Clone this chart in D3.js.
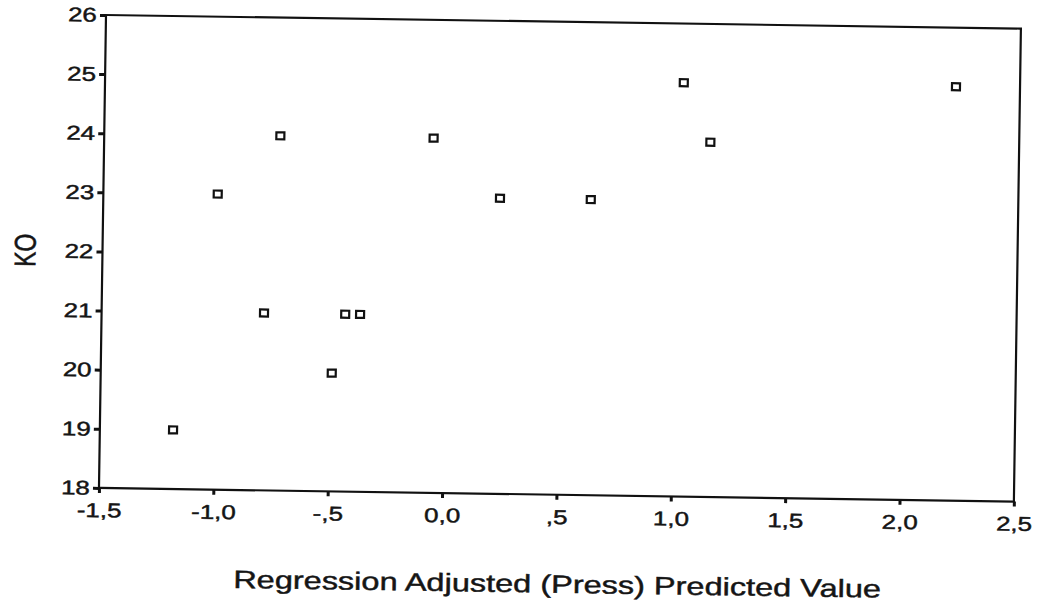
<!DOCTYPE html>
<html>
<head>
<meta charset="utf-8">
<script src="https://cdn.jsdelivr.net/npm/d3@7"></script>
<style>
  body { margin: 0; background: #fff; }
  text { font-family: "Liberation Sans", Arial, sans-serif; fill: #151515; stroke: #151515; stroke-width: 0.45px; }
</style>
</head>
<body>
<svg id="chart" width="1041" height="606"></svg>
<script>
// valeurs
const predicted = [-1.18, -1.00, -0.79, -0.73, -0.49, -0.435, -0.37, -0.06, 0.234, 0.631, 1.03, 1.15, 2.22];
const ko        = [19, 23, 21, 24, 20, 21, 21, 24, 23, 23, 25, 24, 25];

const xTicks = [-1.5, -1.0, -0.5, 0.0, 0.5, 1.0, 1.5, 2.0, 2.5];
const xTickLabels = ["-1,5", "-1,0", "-,5", "0,0", ",5", "1,0", "1,5", "2,0", "2,5"];
const yTicks = [18, 19, 20, 21, 22, 23, 24, 25, 26];

const xTitle = "Regression Adjusted (Press) Predicted Value";
const yTitle = "KO";

// le scan est un peu penché et le texte étiré
const plotLeft = 106, plotTop = 15;
const plotW = 915, plotH = 473;
const tilt = 0.85;
const stretch = 1.3;

const svg = d3.select("#chart");
svg.append("rect").attr("width", 1041).attr("height", 606).attr("fill", "#fff");

const g = svg.append("g")
    .attr("transform", `rotate(${tilt}, ${plotLeft}, ${plotTop}) translate(${plotLeft}, ${plotTop})`);

const x = d3.scaleLinear().domain([-1.5, 2.5]).range([0, plotW]);
const y = d3.scaleLinear().domain([18, 26]).range([plotH, 0]);

// axe x
const xAxis = g.append("g")
    .attr("transform", `translate(0, ${plotH})`)
    .call(d3.axisBottom(x)
        .tickValues(xTicks)
        .tickFormat((d, i) => xTickLabels[i])
        .tickSize(5)
        .tickPadding(10));

// axe y
const yAxis = g.append("g")
    .call(d3.axisLeft(y)
        .tickValues(yTicks)
        .tickFormat(d3.format("d"))
        .tickSize(6));

[xAxis, yAxis].forEach(a => {
  a.select(".domain").remove();
  a.selectAll(".tick line").attr("stroke", "#111").attr("stroke-width", 3);
  a.selectAll(".tick text")
      .attr("fill", "#151515")
      .style("font-size", "20px");
});
xAxis.selectAll(".tick text").attr("transform", `scale(${stretch}, 1)`);
yAxis.selectAll(".tick text").attr("x", -7).attr("transform", `scale(${stretch}, 1)`);

// cadre
g.append("rect")
    .attr("width", plotW)
    .attr("height", plotH)
    .attr("fill", "none")
    .attr("stroke", "#111")
    .attr("stroke-width", 2.2);

// points
g.append("g")
  .selectAll("rect")
  .data(predicted.map((v, i) => ({x: v, y: ko[i]})))
  .join("rect")
    .attr("x", d => x(d.x) - 4)
    .attr("y", d => y(d.y) - 3.5)
    .attr("width", 8)
    .attr("height", 7)
    .attr("fill", "#fff")
    .attr("stroke", "#111")
    .attr("stroke-width", 2.2);

// titres
g.append("text")
    .attr("transform", `translate(${plotW / 2 + 2}, ${plotH + 98}) scale(${stretch}, 1)`)
    .attr("text-anchor", "middle")
    .style("font-size", "25px")
    .text(xTitle);

g.append("text")
    .attr("transform", `translate(-67, ${y(22)}) scale(${stretch}, 1) rotate(-90)`)
    .attr("text-anchor", "middle")
    .style("font-size", "23px")
    .text(yTitle);
</script>
</body>
</html>
